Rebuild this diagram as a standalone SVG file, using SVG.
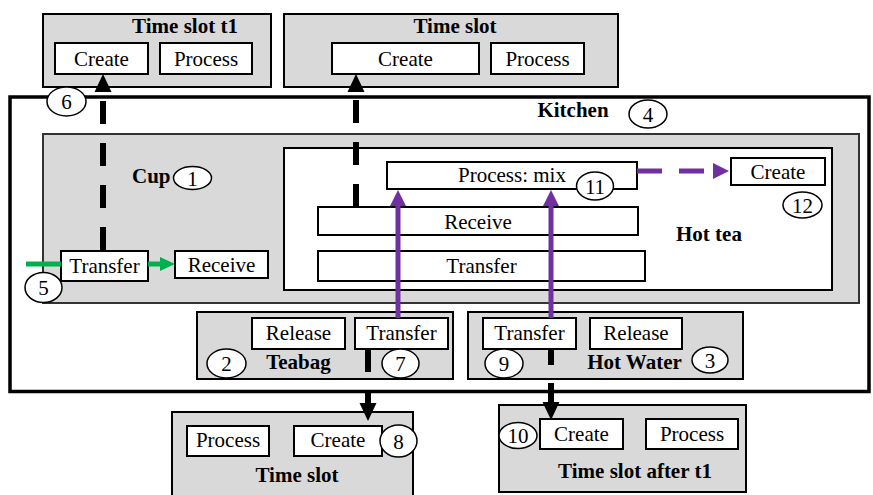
<svg xmlns="http://www.w3.org/2000/svg" width="873" height="495" viewBox="0 0 873 495">
  <defs>
    <style>
      text { font-family: "Liberation Serif", Tinos, "DejaVu Serif", serif; font-size: 21px; fill: #000; }
      .b { font-weight: bold; }
      .c { text-anchor: middle; }
      .slot { fill: #d9d9d9; stroke: #000; stroke-width: 2; }
      .ent { fill: #d9d9d9; stroke: #333; stroke-width: 2; }
      .op { fill: #fff; stroke: #000; stroke-width: 2; }
      .tag { fill: #fff; stroke: #000; stroke-width: 1.5; }
      .blk { stroke: #000; stroke-width: 6; fill: none; }
      .dash { stroke-dasharray: 23 19; }
      .pur { stroke: #7030a0; stroke-width: 5; fill: none; }
      .grn { stroke: #00b050; stroke-width: 5; fill: none; }
    </style>
    <marker id="hBlack" markerUnits="userSpaceOnUse" viewBox="0 0 18 18" markerWidth="18" markerHeight="18" refX="0" refY="9" orient="auto">
      <path d="M0,0.5 L18,9 L0,17.5 z" fill="#000"/>
    </marker>
    <marker id="hPurple" markerUnits="userSpaceOnUse" viewBox="0 0 16 16" markerWidth="16" markerHeight="16" refX="0" refY="8" orient="auto">
      <path d="M0,0 L16,8 L0,16 z" fill="#7030a0"/>
    </marker>
    <marker id="hGreen" markerUnits="userSpaceOnUse" viewBox="0 0 15 14" markerWidth="15" markerHeight="14" refX="0" refY="7" orient="auto">
      <path d="M0,0 L15,7 L0,14 z" fill="#00b050"/>
    </marker>
  </defs>

  <!-- Kitchen -->
  <g id="kitchen">
    <rect x="10" y="97" width="859" height="294.5" fill="#fff" stroke="#000" stroke-width="3.5"/>
    <text class="b c" x="573" y="117">Kitchen</text>
  </g>

  <!-- Time slot t1 -->
  <g id="slot-t1">
    <rect class="slot" x="43" y="14" width="228" height="73"/>
    <text class="b c" x="185" y="33">Time slot t1</text>
    <rect class="op" x="55" y="43" width="93" height="31"/>
    <text class="c" x="101.5" y="65.5">Create</text>
    <rect class="op" x="160" y="43" width="92" height="31"/>
    <text class="c" x="206" y="65.5">Process</text>
  </g>

  <!-- Time slot (upper) -->
  <g id="slot-top">
    <rect class="slot" x="284" y="14" width="334" height="73"/>
    <text class="b c" x="455" y="33">Time slot</text>
    <rect class="op" x="332" y="43" width="147" height="31"/>
    <text class="c" x="405.5" y="65.5">Create</text>
    <rect class="op" x="491" y="43" width="93" height="31"/>
    <text class="c" x="537.5" y="65.5">Process</text>
  </g>

  <!-- Cup -->
  <g id="cup">
    <rect class="ent" x="43" y="134" width="816" height="169"/>
    <text class="b" x="132" y="183">Cup</text>
    <rect class="op" x="61" y="251" width="87" height="30"/>
    <text class="c" x="104.5" y="273">Transfer</text>
    <rect class="op" x="175" y="251" width="93" height="27"/>
    <text class="c" x="221.5" y="272">Receive</text>
  </g>

  <!-- Hot tea -->
  <g id="hot-tea">
    <rect x="284" y="148" width="548" height="142" fill="#fff" stroke="#000" stroke-width="2"/>
    <text class="b" x="676" y="241">Hot tea</text>
    <rect class="op" x="387" y="162" width="250" height="27"/>
    <text class="c" x="512" y="181.5">Process: mix</text>
    <rect class="op" x="731" y="158" width="94" height="27"/>
    <text class="c" x="778" y="179">Create</text>
    <rect class="op" x="318" y="207" width="320" height="28"/>
    <text class="c" x="478" y="229">Receive</text>
    <rect class="op" x="318" y="251" width="327" height="30"/>
    <text class="c" x="481.5" y="273">Transfer</text>
  </g>

  <!-- Teabag -->
  <g id="teabag">
    <rect class="slot" x="197" y="312" width="256" height="67"/>
    <rect class="op" x="252" y="318" width="93" height="31"/>
    <text class="c" x="298.5" y="340">Release</text>
    <rect class="op" x="355" y="318" width="93" height="31"/>
    <text class="c" x="401.5" y="340">Transfer</text>
    <text class="b c" x="298.5" y="369">Teabag</text>
  </g>

  <!-- Hot Water -->
  <g id="hot-water">
    <rect class="slot" x="468" y="312" width="275" height="67"/>
    <rect class="op" x="483" y="318" width="93" height="31"/>
    <text class="c" x="529.5" y="340">Transfer</text>
    <rect class="op" x="590" y="318" width="92" height="31"/>
    <text class="c" x="636" y="340">Release</text>
    <text class="b c" x="634.5" y="369">Hot Water</text>
  </g>

  <!-- Time slot (lower) -->
  <g id="slot-bottom">
    <rect class="slot" x="172" y="412" width="241" height="90"/>
    <rect class="op" x="187" y="426" width="82" height="30"/>
    <text class="c" x="228" y="447">Process</text>
    <rect class="op" x="294" y="426" width="88" height="30"/>
    <text class="c" x="338" y="447">Create</text>
    <text class="b c" x="297" y="482">Time slot</text>
  </g>

  <!-- Time slot after t1 -->
  <g id="slot-after-t1">
    <rect class="slot" x="499" y="405" width="247" height="87"/>
    <rect class="op" x="540" y="419" width="83" height="30"/>
    <text class="c" x="581.5" y="441">Create</text>
    <rect class="op" x="646" y="419" width="92" height="30"/>
    <text class="c" x="692" y="441">Process</text>
    <text class="b c" x="635" y="478">Time slot after t1</text>
  </g>

  <!-- Connectors -->
  <g id="connectors">
    <path class="blk dash" d="M103,250 V92" marker-end="url(#hBlack)"/>
    <path class="blk dash" d="M356,207 V92" marker-end="url(#hBlack)"/>
    <path class="blk" d="M368,349 V372"/>
    <path class="blk" d="M368,393 V403" marker-end="url(#hBlack)"/>
    <path class="blk" d="M551,349 V365"/>
    <path class="blk" d="M551,383 V402" marker-end="url(#hBlack)"/>
    <path class="pur" d="M398,318 V206" marker-end="url(#hPurple)"/>
    <path class="pur" d="M551,318 V206" marker-end="url(#hPurple)"/>
    <path class="pur" d="M637,171 H713" stroke-width="6" stroke-dasharray="25 17" marker-end="url(#hPurple)"/>
    <path class="grn" d="M26,264 H61"/>
    <path class="grn" d="M148,264 H160" marker-end="url(#hGreen)"/>
  </g>

  <!-- Numbered tags -->
  <g id="tags">
    <g id="tag-1"><ellipse class="tag" cx="192.5" cy="178" rx="19" ry="11.5"/><text class="c" x="192.5" y="185.5">1</text></g>
    <g id="tag-2"><ellipse class="tag" cx="226.5" cy="363.5" rx="19.5" ry="14.5"/><text class="c" x="226.5" y="371">2</text></g>
    <g id="tag-3"><ellipse class="tag" cx="710" cy="360" rx="18" ry="13"/><text class="c" x="710" y="367.5">3</text></g>
    <g id="tag-4"><ellipse class="tag" cx="648" cy="114" rx="19" ry="14"/><text class="c" x="648" y="121.5">4</text></g>
    <g id="tag-5"><ellipse class="tag" cx="43.5" cy="287.5" rx="18.5" ry="15"/><text class="c" x="43.5" y="295">5</text></g>
    <g id="tag-6"><ellipse class="tag" cx="66.5" cy="101.5" rx="19.5" ry="14.5"/><text class="c" x="66.5" y="109">6</text></g>
    <g id="tag-7"><ellipse class="tag" cx="400.5" cy="363.5" rx="18.5" ry="14.5"/><text class="c" x="400.5" y="371">7</text></g>
    <g id="tag-8"><ellipse class="tag" cx="398.5" cy="441" rx="18.5" ry="16"/><text class="c" x="398.5" y="448.5">8</text></g>
    <g id="tag-9"><ellipse class="tag" cx="504" cy="363.5" rx="19" ry="14.5"/><text class="c" x="504" y="371">9</text></g>
    <g id="tag-10"><ellipse class="tag" cx="518" cy="435.5" rx="19" ry="13"/><text class="c" x="518" y="443">10</text></g>
    <g id="tag-11"><ellipse class="tag" cx="595" cy="186" rx="18.5" ry="14"/><text class="c" x="595" y="193.5">11</text></g>
    <g id="tag-12"><ellipse class="tag" cx="802.5" cy="205" rx="19.5" ry="13"/><text class="c" x="802.5" y="212.5">12</text></g>
  </g>
</svg>
